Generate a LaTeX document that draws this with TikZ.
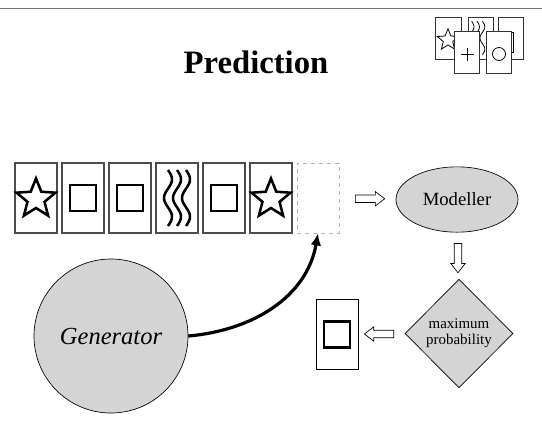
\documentclass[tikz,border=0pt]{standalone}
\usepackage{fontspec}
\setmainfont{Liberation Serif}
\usetikzlibrary{shapes}
\usetikzlibrary{positioning}
\usetikzlibrary{arrows.meta}
\usetikzlibrary{calc}
\tikzset{
    card/.style = {rectangle, draw=black!70, line width=0.9pt, minimum width=31.5pt, minimum height=52.5pt, inner sep=0pt, fill=white},
    slot/.style = {rectangle, draw=black!30, dashed, line width=0.6pt, minimum width=31.5pt, minimum height=52.5pt, inner sep=0pt},
    minicard/.style = {rectangle, draw=black!80, line width=0.6pt, minimum width=19pt, minimum height=32pt, inner sep=0pt, fill=white},
    mynode/.style = {draw=black, line width=0.5pt, fill=black!17, inner sep=0pt, align=center},
    fatarrow/.style = {single arrow, draw=black, line width=0.5pt, fill=white, minimum height=22pt, inner sep=2.6pt, single arrow head extend=2.5pt, single arrow tip angle=75},
    sym/.style = {line width=1.9pt, line join=miter},
    edgen/.style = {-{Latex[length=9pt,width=8pt]}, line width=2.4pt},
    starsym/.pic = {\draw[sym] (-90:20.5) \foreach \a in {1,...,9} {-- (-90+36*\a:{mod(\a,2)==0 ? 20.5 : 9})} -- cycle;},
    boxsym/.pic = {\draw[sym] (-13,-13) rectangle (13,13);},
    wavesym/.pic = {\foreach \dx in {-9,0,9} \draw[sym] plot[domain=0:1, samples=40, smooth, variable=\t] ({\dx+4*sin(540*\t)}, {-28+56*\t});},
    plussym/.pic = {\draw[sym] (-13,0) -- (13,0) (0,-13) -- (0,13);},
    ringsym/.pic = {\draw[sym] (0,0) circle[radius=13];},
}
\begin{document}
\begin{tikzpicture}[x=0.75pt, y=-0.75pt]
  \useasboundingbox (0,0) rectangle (542,426);
  \draw[black!55, line width=1.4pt] (0,8.5) -- (542,8.5);

  \node[font=\fontsize{24.5}{30}\selectfont\bfseries, anchor=base] (title) at (256,73) {Prediction};

  % small deck in the corner
  \node[minicard] (ia) at (448.5,38.5) {};
  \pic[scale=0.55, sym/.style={line width=0.6pt}] at (448,40) {starsym};
  \node[minicard] (ib) at (481,38.5) {};
  \pic[scale=0.6, sym/.style={line width=0.6pt}] at (477,38) {wavesym};
  \node[minicard] (ic) at (511,38.5) {};
  \pic[scale=0.77, sym/.style={line width=0.6pt}] at (503,42) {boxsym};
  \node[minicard] (id) at (467,52.5) {};
  \pic[scale=0.5, sym/.style={line width=0.6pt}] at (467,54) {plussym};
  \node[minicard] (ie) at (499,52.5) {};
  \pic[scale=0.5, sym/.style={line width=0.6pt}] at (499,54) {ringsym};

  % sequence
  \node[card] (c0) at ( 36,198) {};
  \pic at (36,199) {starsym};
  \node[card] (c1) at ( 83,198) {};
  \pic at (c1) {boxsym};
  \node[card] (c2) at (130,198) {};
  \pic at (c2) {boxsym};
  \node[card] (c3) at (177,198) {};
  \pic at (c3) {wavesym};
  \node[card] (c4) at (224,198) {};
  \pic at (c4) {boxsym};
  \node[card] (c5) at (271,198) {};
  \pic at (271,199) {starsym};
  \node[slot] (slot) at (318,198) {};

  \node[mynode, ellipse, minimum width=91.5pt, minimum height=49pt, font=\fontsize{14}{16}\selectfont] (model) at (457,199.5) {Modeller};
  \node[mynode, diamond, minimum width=81pt, minimum height=81.5pt, font=\fontsize{11.2}{12}\selectfont] (maxp) at (459,333.5) {maximum\\probability};
  \node[card, draw=black, line width=0.6pt] (result) at (337,334.5) {};
  \pic at (result) {boxsym};
  \node[mynode, circle, minimum size=115.5pt, font=\fontsize{18.4}{22}\selectfont\itshape] (gen) at (111,336) {Generator};

  \node[fatarrow] (a1) at ($(slot.east)!0.5!(model.west)$) {};
  \node[fatarrow, rotate=-90] (a2) at ($(model.south)!0.5!(maxp.north)$) {};
  \node[fatarrow, rotate=180] (a3) at ($(result.east)!0.5!(maxp.west)$) {};

  \draw[edgen] (gen.east) to[out=5, in=-100] (slot.south);
\end{tikzpicture}
\end{document}
